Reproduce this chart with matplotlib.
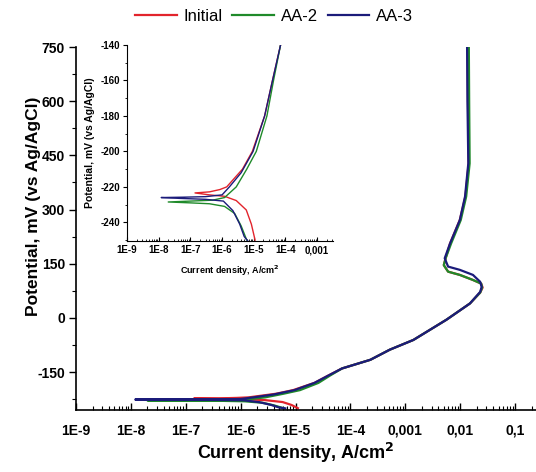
#!/usr/bin/env python3
"""Potentiodynamic polarization curves (Initial, AA-2, AA-3) with a zoomed inset near Ecorr."""

import numpy as np
import matplotlib.pyplot as plt
from matplotlib.ticker import FixedLocator, LogLocator, NullFormatter

# Current density (A/cm2) and potential (mV vs Ag/AgCl).
# Each path runs from the cathodic end, through Ecorr, up the anodic branch.
initial_i = [1.1e-5, 8.4e-6, 5.8e-6, 2.8e-6, 1.2e-6, 4e-7, 1.4e-7, 4e-7, 8.5e-7, 1.4e-6,
             4.4e-6, 9e-6, 2.2e-5, 3.9e-5, 7e-5, 2.3e-4, 5.2e-4, 1.4e-3, 2.8e-3, 5.6e-3,
             0.015, 0.023, 0.0255, 0.024, 0.017, 0.0098, 6e-3, 5.0e-3, 5.4e-3, 6.5e-3,
             9.8e-3, 0.0124, 0.0142, 0.0138, 0.0136]
initial_E = [-250, -241, -233, -227.7, -225.3, -224.5, -223.4, -222.8, -221.5, -220,
             -210, -200, -180, -160, -140, -116, -88, -61, -33, -5,
             40, 70, 84, 95, 105, 119, 128, 146, 165, 206,
             271, 336, 428, 600, 750]

aa2_i = [6e-6, 4e-6, 2.5e-6, 1.2e-6, 4e-7, 1e-7, 2e-8, 1e-7, 5e-7, 1.2e-6,
         2.8e-6, 6e-6, 1.2e-5, 2.6e-5, 4.2e-5, 7e-5, 2.3e-4, 5.2e-4, 1.4e-3, 2.8e-3,
         5.6e-3, 0.015, 0.023, 0.025, 0.024, 0.017, 0.0098, 6e-3, 5.0e-3, 5.4e-3,
         6.8e-3, 0.0102, 0.0128, 0.0148, 0.0145, 0.0143]
aa2_E = [-250, -242, -235, -231, -229.5, -229, -228.5, -228, -227.5, -226,
         -220, -210, -200, -180, -160, -140, -116, -88, -61, -33,
         -5, 40, 70, 84, 95, 105, 119, 128, 146, 165,
         206, 271, 336, 428, 600, 750]

aa3_i = [6.5e-6, 5.0e-6, 3.6e-6, 2.2e-6, 1.1e-6, 3e-7, 5e-8, 1.2e-8, 6e-8, 3e-7,
         1e-6, 1.7e-6, 4e-6, 9.5e-6, 2.2e-5, 3.9e-5, 7e-5, 2.3e-4, 5.2e-4, 1.4e-3,
         2.8e-3, 5.6e-3, 0.015, 0.023, 0.0245, 0.023, 0.017, 0.0098, 6e-3, 5.2e-3,
         6.5e-3, 9.8e-3, 0.0122, 0.014, 0.0135, 0.0133]
aa3_E = [-250.5, -248, -241, -233.4, -228, -227, -226.5, -226, -225.8, -225.5,
         -224.5, -220, -212, -200, -180, -160, -140, -116, -88, -61,
         -33, -5, 40, 72, 86, 100, 119, 133, 142, 165,
         206, 271, 336, 428, 600, 750]

series = [
    ("Initial", initial_i, initial_E, "#e2242c"),
    ("AA-2", aa2_i, aa2_E, "#1f8a2a"),
    ("AA-3", aa3_i, aa3_E, "#1b1b7a"),
]

main_xticks = [1e-9, 1e-8, 1e-7, 1e-6, 1e-5, 1e-4, 1e-3, 1e-2, 1e-1]
main_xlabels = ["1E-9", "1E-8", "1E-7", "1E-6", "1E-5", "1E-4", "0,001", "0,01", "0,1"]
main_yticks = [-150, 0, 150, 300, 450, 600, 750]

inset_xticks = [1e-9, 1e-8, 1e-7, 1e-6, 1e-5, 1e-4, 1e-3]
inset_xlabels = ["1E-9", "1E-8", "1E-7", "1E-6", "1E-5", "1E-4", "0,001"]
inset_yticks = [-240, -220, -200, -180, -160, -140]

plt.rcParams.update({"font.family": "Liberation Sans"})

W, H = 536, 472
fig = plt.figure(figsize=(W / 100, H / 100), dpi=100)

# main axes
ax = fig.add_axes([76 / W, 62 / H, 460 / W, 363 / H])
for name, i, E, c in series:
    ax.plot(i, E, color=c, lw=1.6, label=name)
ax.set_xscale("log")
ax.set_xlim(1e-9, 10 ** (-9 + 460 / 54.9))
ax.set_ylim(-255, 750)
ax.set_xticks(main_xticks)
ax.set_xticklabels(main_xlabels, fontsize=10, fontweight="bold")
ax.xaxis.set_minor_locator(LogLocator(base=10, subs=np.arange(2, 10), numticks=20))
ax.xaxis.set_minor_formatter(NullFormatter())
ax.set_yticks(main_yticks)
ax.set_yticklabels([str(v) for v in main_yticks], fontsize=10, fontweight="bold")
ax.yaxis.set_minor_locator(FixedLocator(np.arange(-225, 750, 150)))
ax.tick_params(axis="x", which="major", direction="in", length=5, width=1, pad=10)
ax.tick_params(axis="x", which="minor", direction="in", length=3, width=0.8)
ax.tick_params(axis="y", which="major", direction="out", length=5, width=1, pad=3)
ax.tick_params(axis="y", which="minor", direction="out", length=3, width=0.8)
for s in ("top", "right"):
    ax.spines[s].set_visible(False)
for s in ("left", "bottom"):
    ax.spines[s].set_linewidth(1.2)
ax.set_xlabel("Current density, A/cm$^\\mathbf{2}$", fontsize=13, fontweight="bold")
ax.xaxis.set_label_coords(0.478, -0.085)
ax.set_ylabel("Potential, mV (vs Ag/AgCl)", fontsize=12.5, fontweight="bold", va="center")
ax.yaxis.set_label_coords(-0.093, 0.56)

fig.legend(loc="upper center", bbox_to_anchor=(274 / W, 1.0), ncol=3, frameon=False,
           fontsize=12, handlelength=2.5, handletextpad=0.4, columnspacing=0.6,
           borderaxespad=0.15)

# inset
ins = fig.add_axes([127 / W, 231 / H, 206 / W, 196 / H])
for name, i, E, c in series:
    ins.plot(i, E, color=c, lw=1.0)
ins.set_xscale("log")
ins.set_xlim(1e-9, 10 ** -2.5)
ins.set_ylim(-250.5, -140)
ins.set_xticks(inset_xticks)
ins.set_xticklabels(inset_xlabels, fontsize=7, fontweight="bold")
ins.xaxis.set_minor_locator(LogLocator(base=10, subs=np.arange(2, 10), numticks=20))
ins.xaxis.set_minor_formatter(NullFormatter())
ins.set_yticks(inset_yticks)
ins.set_yticklabels([str(v) for v in inset_yticks], fontsize=7, fontweight="bold")
ins.yaxis.set_minor_locator(FixedLocator(np.arange(-250, -140, 10)))
ins.tick_params(axis="x", which="major", direction="in", length=3, width=0.8, pad=3)
ins.tick_params(axis="x", which="minor", direction="in", length=1.5, width=0.6)
ins.tick_params(axis="y", which="major", direction="out", length=3, width=0.8, pad=2)
ins.tick_params(axis="y", which="minor", direction="out", length=1.5, width=0.6)
for s in ("top", "right"):
    ins.spines[s].set_visible(False)
ins.set_xlabel("Current density, A/cm$^\\mathbf{2}$", fontsize=6.5, fontweight="bold", va="center")
ins.xaxis.set_label_coords(0.5, -0.15)
ins.set_ylabel("Potential, mV (vs Ag/AgCl)", fontsize=7.5, fontweight="bold", va="center")
ins.yaxis.set_label_coords(-0.18, 0.5)

fig.savefig("out.png", dpi=100)
